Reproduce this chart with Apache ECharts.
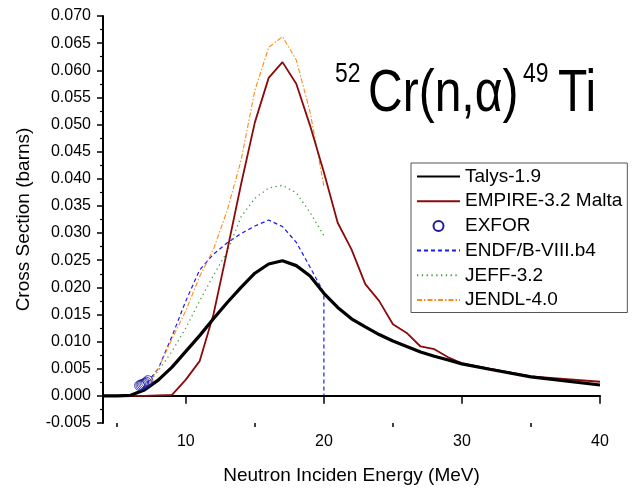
<!DOCTYPE html>
<html>
<head>
<meta charset="utf-8">
<script src="https://cdn.jsdelivr.net/npm/echarts@6/dist/echarts.min.js"></script>
<style>
html,body{margin:0;padding:0;background:#fff;}
#chart{width:642px;height:490px;}
</style>
</head>
<body>
<div id="chart"></div>
<script>
// ---- Data ----
const seriesNames = ['Talys-1.9', 'EMPIRE-3.2 Malta', 'EXFOR', 'ENDF/B-VIII.b4', 'JEFF-3.2', 'JENDL-4.0'];

const talysE = [4, 5, 6, 7, 8, 9, 10, 11, 12, 13, 14, 15, 16, 17, 18, 19, 20, 21, 22, 23, 24, 25, 26, 27, 28, 29, 30, 32, 35, 40];
const talysV = [0, 0, 0.0001, 0.0011, 0.0029, 0.0053, 0.0082, 0.0111, 0.0142, 0.0172, 0.0200, 0.0226, 0.0243, 0.0249, 0.0240, 0.0221, 0.0189, 0.0163, 0.0142, 0.0127, 0.0113, 0.0101, 0.0091, 0.0081, 0.0073, 0.0066, 0.0059, 0.0049, 0.0035, 0.0020];

const empireE = [4, 5, 6, 7, 8, 9, 10, 11, 12, 13, 14, 15, 16, 17, 18, 19, 20, 21, 22, 23, 24, 25, 26, 27, 28, 29, 30, 35, 40];
const empireV = [0, 0, 0, 0, 0.0001, 0.0002, 0.003, 0.0064, 0.0150, 0.0268, 0.0390, 0.0504, 0.0586, 0.0615, 0.0575, 0.0498, 0.0412, 0.0319, 0.0270, 0.0206, 0.0175, 0.0132, 0.0116, 0.0091, 0.0086, 0.0071, 0.0060, 0.0036, 0.0026];

const exforE = [6.65, 6.75, 6.85, 6.95, 7.05, 7.15, 7.25];
const exforV = [0.0019, 0.0020, 0.0021, 0.0022, 0.0023, 0.0025, 0.0028];

const endfE = [4, 5, 6, 6.5, 7, 8, 9, 10, 11, 12, 13, 14, 15, 16, 17, 18, 19, 20, 20];
const endfV = [0, 0, 0.0001, 0.0004, 0.0018, 0.0050, 0.0110, 0.0175, 0.0232, 0.0261, 0.0282, 0.0299, 0.0313, 0.0324, 0.0312, 0.0283, 0.0237, 0.0190, 0];

const jeffE = [4, 5, 6, 7, 8, 9, 10, 11, 12, 13, 14, 15, 16, 17, 18, 19, 20];
const jeffV = [0, 0, 0.0001, 0.0014, 0.0046, 0.0082, 0.0125, 0.0175, 0.0222, 0.0266, 0.0330, 0.0364, 0.0383, 0.0388, 0.0374, 0.0338, 0.0295];

const jendlE = [4, 5, 6, 7, 8, 9, 10, 11, 12, 13, 14, 15, 16, 17, 18, 19, 20];
const jendlV = [0, 0, 0.0001, 0.0012, 0.0050, 0.0105, 0.0157, 0.0220, 0.0270, 0.0342, 0.0434, 0.0563, 0.0642, 0.0662, 0.0619, 0.0523, 0.0387];

const xMajorTicks = [10, 20, 30, 40];
const xMinorTicks = [5, 15, 25, 35];

const pairs = (xs, ys) => xs.map((x, i) => [x, ys[i]]);

const chart = echarts.init(document.getElementById('chart'), null, {renderer: 'canvas'});
const FONT = 'Liberation Sans, Arial, sans-serif';
const EXFOR_BLUE = '#1c1c9e';

const option = {
  animation: false,
  backgroundColor: '#fff',
  textStyle: {fontFamily: FONT, color: '#000'},
  grid: {left: 103, right: 42, top: 16, bottom: 66.5, containLabel: false},
  xAxis: [{
    type: 'value', min: 4, max: 40,
    name: 'Neutron Inciden Energy (MeV)', nameLocation: 'middle', nameGap: 43,
    nameTextStyle: {fontSize: 19, color: '#000', fontFamily: FONT},
    axisLine: {show: true, lineStyle: {color: '#000', width: 2}},
    axisTick: {show: true, length: 8, lineStyle: {color: '#000', width: 1.5}, customValues: xMajorTicks},
    axisLabel: {fontSize: 16, color: '#000', margin: 11, fontFamily: FONT, customValues: xMajorTicks},
    splitLine: {show: false}
  }, {
    type: 'value', min: 4, max: 40, gridIndex: 0, position: 'bottom',
    axisLine: {show: false},
    axisTick: {show: true, length: 4, lineStyle: {color: '#000', width: 1.5}, customValues: xMinorTicks},
    axisLabel: {show: false},
    splitLine: {show: false}
  }],
  yAxis: {
    type: 'value', min: -0.005, max: 0.07, interval: 0.005,
    name: 'Cross Section (barns)', nameLocation: 'middle', nameGap: 70,
    nameTextStyle: {fontSize: 19, color: '#000', fontFamily: FONT},
    axisLine: {show: true, lineStyle: {color: '#000', width: 2}},
    axisTick: {show: true, length: 6, lineStyle: {color: '#000', width: 1.5}},
    minorTick: {show: true, splitNumber: 2, length: 3, lineStyle: {color: '#000', width: 1.2}},
    axisLabel: {fontSize: 16, color: '#000', margin: 12, fontFamily: FONT,
      formatter: v => v.toFixed(3)},
    splitLine: {show: false}
  },
  legend: {
    orient: 'vertical', left: 411, top: 163,
    padding: [4, 5, 3, 5],
    itemWidth: 43, itemHeight: 10, itemGap: 5.7,
    backgroundColor: '#fff', borderColor: '#555', borderWidth: 1,
    textStyle: {fontSize: 19, color: '#000', fontFamily: FONT, lineHeight: 19},
    itemStyle: {opacity: 0},
    data: seriesNames.map(n => n === 'EXFOR'
      ? {name: n, icon: 'emptyCircle', itemStyle: {opacity: 1, color: EXFOR_BLUE, borderColor: EXFOR_BLUE, borderWidth: 1}}
      : {name: n})
  },
  series: [
    {name: seriesNames[1], type: 'line', data: pairs(empireE, empireV), symbol: 'none',
      lineStyle: {color: '#8B0A0A', width: 1.8}, itemStyle: {color: '#8B0A0A'}, z: 3},
    {name: seriesNames[3], type: 'line', data: pairs(endfE, endfV), symbol: 'none',
      lineStyle: {color: '#1a1aff', width: 1.2, type: [4, 3]}, itemStyle: {color: '#1a1aff'}, z: 2},
    {name: seriesNames[4], type: 'line', data: pairs(jeffE, jeffV), symbol: 'none',
      lineStyle: {color: '#3f9f3f', width: 1.3, type: [1.3, 3.5]}, itemStyle: {color: '#3f9f3f'}, z: 2},
    {name: seriesNames[5], type: 'line', data: pairs(jendlE, jendlV), symbol: 'none',
      lineStyle: {color: '#ff8a1a', width: 1.1, type: [5, 2, 1.5, 2]}, itemStyle: {color: '#ff8a1a'}, z: 2},
    {name: seriesNames[0], type: 'line', data: pairs(talysE, talysV), symbol: 'none',
      lineStyle: {color: '#000', width: 3.2}, itemStyle: {color: '#000'}, z: 4},
    {name: seriesNames[2], type: 'scatter', data: pairs(exforE, exforV), symbol: 'circle', symbolSize: 10,
      itemStyle: {color: 'rgba(0,0,0,0)', borderColor: EXFOR_BLUE, borderWidth: 1}, z: 5}
  ],
  graphic: [
    {type: 'text', x: 335, y: 75, scaleX: 0.85, style: {text: '52', fontSize: 27, fontFamily: FONT, fill: '#000', verticalAlign: 'middle', align: 'left'}},
    {type: 'text', x: 368, y: 94, scaleX: 0.8, style: {text: 'Cr(n,α)', fontSize: 60, fontFamily: FONT, fill: '#000', verticalAlign: 'middle', align: 'left'}},
    {type: 'text', x: 523, y: 75, scaleX: 0.85, style: {text: '49', fontSize: 27, fontFamily: FONT, fill: '#000', verticalAlign: 'middle', align: 'left'}},
    {type: 'text', x: 558, y: 94, scaleX: 0.8, style: {text: 'Ti', fontSize: 60, fontFamily: FONT, fill: '#000', verticalAlign: 'middle', align: 'left'}}
  ]
};
chart.setOption(option);
</script>
</body>
</html>
